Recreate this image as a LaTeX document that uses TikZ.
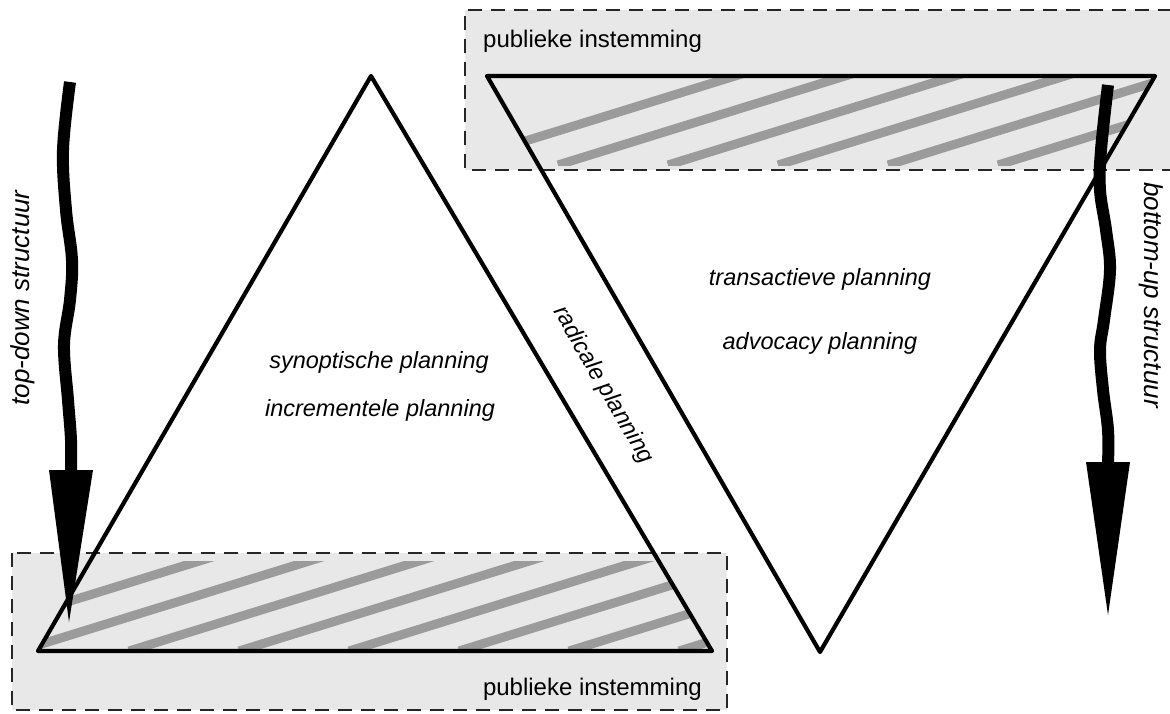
\documentclass[tikz,border=0pt]{standalone}
\usepackage{fontspec}
\setmainfont{Liberation Sans}
\begin{document}
\begin{tikzpicture}[x=1pt,y=-1pt,
  boxfill/.style={fill=boxgray,draw=none},
  boxline/.style={draw=black!85,line width=2.6pt,dash pattern=on 14pt off 9pt},
  tri/.style={draw=black,line width=4.2pt,line join=round},
  hatch/.style={draw=stripegray,line width=9pt},
  shaft/.style={draw=black,line width=12pt},
  head/.style={fill=black,draw=none},
  lab/.style={font=\fontsize{23.5}{26}\selectfont\itshape,inner sep=0pt},
  vlab/.style={font=\fontsize{26}{30}\selectfont\itshape,inner sep=0pt},
  pub/.style={font=\fontsize{24}{28}\selectfont,inner sep=0pt}]
\definecolor{boxgray}{RGB}{232,232,232}
\definecolor{stripegray}{RGB}{155,155,155}
\useasboundingbox (0,0) rectangle (1170,713);
% boxes
\fill[boxfill] (12,553) rectangle (727,710);
\fill[boxfill] (465,10) rectangle (1170,170);
% hatching bottom
\begin{scope}
  \clip (38,651) -- (712,651) -- (371,77) -- cycle;
  \clip (0,561) rectangle (1170,651);
  \foreach \k in {-1,...,7}{
    \draw[hatch] ({19+110*\k},651) -- ++(400,-124);
  }
\end{scope}
% hatching top
\begin{scope}
  \clip (487,76) -- (1155,76) -- (820,652) -- cycle;
  \clip (0,76) rectangle (1170,165);
  \foreach \k in {-1,...,7}{
    \draw[hatch] ({558+110*\k},165) -- ++(400,-124);
  }
\end{scope}
% dashed borders
\draw[boxline] (12,553) rectangle (727,710);
\draw[boxline] (1172,10) -- (465,10) -- (465,170) -- (1172,170);
% triangles
\draw[tri] (38,651) -- (712,651) -- (371,76) -- cycle;
\draw[tri] (487,76) -- (1155,76) -- (820,652) -- cycle;
% arrows
\coordinate (ls) at (70,82);
\coordinate (le) at (71,472);
\coordinate (lt) at (69,622);
\draw[shaft] plot[smooth,tension=0.6] coordinates {(ls) (63,150) (66,210) (72,260) (70,300) (64,345) (68,400) (71,440) (le)};
\fill[head] (49,470) -- (93,470) -- (lt) -- cycle;
\coordinate (rs) at (1108,85);
\coordinate (re) at (1108,464);
\coordinate (rt) at (1108,615);
\draw[shaft] plot[smooth,tension=0.6] coordinates {(rs) (1101,150) (1100,190) (1106,230) (1110,270) (1104,320) (1100,350) (1103,390) (1108,430) (re)};
\fill[head] (1086,462) -- (1130,462) -- (rt) -- cycle;
% labels
\node[lab] (syn) at (379,362) {synoptische planning};
\node[lab] (inc) at (380,410) {incrementele planning};
\node[lab] (tra) at (820,279) {transactieve planning};
\node[lab] (adv) at (820,343) {advocacy planning};
\node[lab,rotate=-60] (rad) at (603,385) {radicale planning};
\node[vlab,rotate=90] (td) at (23,298) {top-down structuur};
\node[vlab,rotate=-90] (bu) at (1151,295) {bottom-up structuur};
\node[pub,anchor=base west] (pt) at (483,47) {publieke instemming};
\node[pub,anchor=base east] (pb) at (702,695) {publieke instemming};
\end{tikzpicture}
\end{document}
